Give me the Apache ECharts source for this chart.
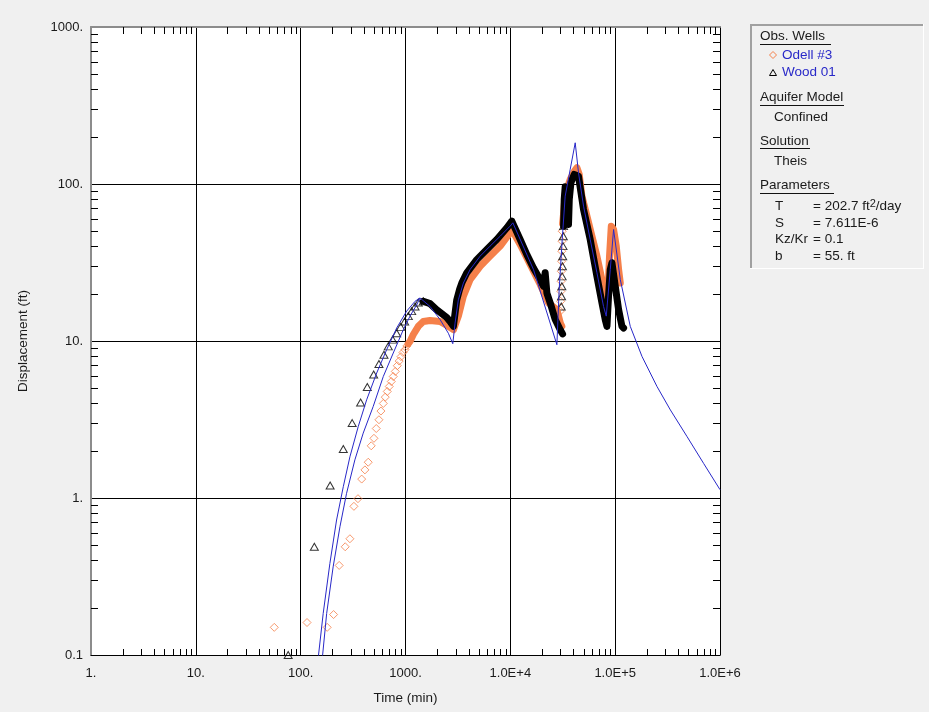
<!DOCTYPE html>
<html>
<head>
<meta charset="utf-8">
<title>Odell #3 / Wood 01 - Theis</title>
<script src="https://cdn.jsdelivr.net/npm/echarts@6/dist/echarts.min.js"></script>
<style>
  html, body { margin: 0; padding: 0; background: #f0f0f0; }
  #chart { width: 929px; height: 712px; }
</style>
</head>
<body>
<div id="chart"></div>
<script>
// ---- axis tick labels ----
const xTickLabels = ['1.', '10.', '100.', '1000.', '1.0E+4', '1.0E+5', '1.0E+6'];
const yTickLabels = ['0.1', '1.', '10.', '100.', '1000.'];

// ---- Odell #3 observations: [time (min), displacement (ft)] ----
const odellPoints = [
  [56, 0.150], [115, 0.161], [179, 0.150], [206, 0.181], [233, 0.372], [266, 0.489],
  [295, 0.550], [322, 0.885], [352, 0.99], [382, 1.32], [410, 1.51], [441, 1.69],
  [471, 2.15], [500, 2.40], [526, 2.77], [558, 3.15], [583, 3.58], [614, 4.00],
  [641, 4.39], [670, 4.77], [700, 5.13], [732, 5.52], [764, 5.94], [799, 6.40], [835, 6.96],
  [870, 7.45], [905, 7.95], [945, 8.45], [989, 8.80], [1030, 9.30],
  [30000, 15.5], [30200, 17.9], [30350, 20.7], [30500, 24.0], [30650, 27.8],
  [30800, 32.2], [30950, 37.3], [31100, 43.2], [31250, 50.0]
];
// densely logged stretches of Odell #3
const odellBands = [
  [
    [1060, 9.60], [1104, 9.94], [1187, 11.0], [1325, 12.4],
    [1479, 13.3], [1714, 13.5], [2137, 13.3], [2564, 12.4], [2864, 11.8], [3193, 14.4],
    [3565, 19.3], [4130, 24.6], [5150, 29.9], [6410, 34.7], [8000, 40.2], [9950, 48.9],
    [10330, 51.3], [12410, 41.2], [15450, 30.7], [19270, 22.9], [23110, 17.5],
    [27800, 15.8], [30000, 13.0], [31000, 12.4]
  ],
  [
    [31500, 56.0], [32150, 64.0], [33360, 85.9], [37260, 107], [40660, 120], [43150, 127],
    [45400, 115], [48180, 83.7], [53830, 62.4], [60000, 46.5], [66990, 34.7], [74820, 24.6],
    [80380, 19.3], [84560, 17.5], [88350, 34.7], [91830, 53.9], [96600, 51.3],
    [102400, 40.2], [107900, 28.5], [111900, 23.4]
  ]
];

// ---- Wood 01 observations ----
const woodPoints = [
  [76, 0.100], [135, 0.489], [191, 1.20], [255, 2.05], [310, 3.00], [373, 4.06],
  [432, 5.09], [497, 6.12], [558, 7.13], [623, 8.18], [685, 9.24], [755, 10.2],
  [824, 11.2], [900, 12.3], [982, 13.3], [1064, 14.4], [1146, 15.5], [1233, 16.6],
  [1325, 17.6], [1479, 17.9],
  [30600, 16.6], [30800, 19.3], [31000, 22.3], [31200, 25.8], [31400, 29.9],
  [31600, 34.7], [31800, 40.2], [32000, 46.5], [32200, 53.9]
];
const woodBands = [
  [
    [1479, 17.9], [1714, 17.3], [1986, 15.8], [2474, 14.1], [2661, 13.3], [2864, 12.4],
    [2971, 15.1], [3083, 18.3], [3280, 21.3], [3443, 23.4], [3843, 27.2], [4786, 33.0],
    [5970, 38.3], [7430, 44.3], [9265, 52.6], [10330, 58.0], [12410, 44.3], [14380, 35.5],
    [16630, 29.2], [19270, 24.6], [20700, 22.3], [21490, 27.2], [22320, 20.2],
    [23990, 17.5], [26790, 13.7], [29910, 11.8], [31500, 11.1]
  ],
  [
    [32200, 53.9], [32660, 80.0], [33360, 96.0], [34500, 90.0], [35880, 55.2], [36500, 80.0],
    [37840, 102], [40660, 115], [42480, 118], [44700, 112], [49920, 68.9], [57810, 44.3],
    [66990, 25.8], [74820, 17.5], [80380, 13.7], [83500, 12.4], [86450, 19.3], [89800, 28.5],
    [93150, 31.5], [100200, 22.3], [107900, 15.8], [116100, 12.4], [120300, 12.1]
  ]
];

// ---- Theis solution curves ----
const theisWood = [
  [146, 0.092], [164, 0.184], [190, 0.383], [220, 0.724], [255, 1.18], [295, 1.83],
  [354, 2.85], [426, 4.22], [531, 6.25], [661, 8.80], [824, 12.1], [1026, 15.5],
  [1233, 17.9], [1375, 18.8], [1714, 16.6], [2137, 13.7], [2564, 11.2], [2825, 9.61],
  [2971, 13.0], [3193, 18.3], [3565, 23.4], [4130, 28.5], [5150, 34.7], [6410, 40.2],
  [8000, 46.5], [9950, 53.9], [10570, 56.6], [16630, 28.5], [27800, 9.47], [29240, 21.3],
  [31250, 44.3], [33360, 83.7], [37260, 124], [41580, 183], [44700, 118], [49920, 72.3],
  [57810, 44.3], [66990, 27.2], [77450, 16.6], [82200, 14.4], [89800, 28.5], [96600, 51.3],
  [111900, 24.6], [139300, 12.4], [180300, 7.97], [250600, 5.13], [336000, 3.64],
  [485000, 2.46], [698000, 1.66], [1000000, 1.13]
];
const theisOdell = [
  [160, 0.092], [177, 0.184], [204, 0.364], [237, 0.656], [274, 1.07], [329, 1.75],
  [395, 2.59], [492, 3.83], [614, 5.94], [764, 8.38], [953, 11.8], [1104, 14.4],
  [1279, 17.0], [1375, 18.8]
];

// ---- legend panel text ----
const paramRows = [
  ['T', '= 202.7 ft{sup|2}/day'],
  ['S', '= 7.611E-6'],
  ['Kz/Kr', '= 0.1'],
  ['b', '= 55. ft']
];

const FONT_FAMILY = '"Liberation Sans", Arial, sans-serif';
const ORANGE = '#f5804a';
const BLUE = '#2828c8';
const TEXT = '#1a1a1a';

// log-axis minor tick values (2..9 in each decade)
const xMinor = [];
for (let d = 1; d < 1e6; d *= 10) for (let k = 2; k <= 9; k++) xMinor.push([k * d, 1]);
const yMinor = [];
for (let d = 0.1; d < 999; d *= 10) for (let k = 2; k <= 9; k++) yMinor.push([10, +(k * d).toPrecision(3)]);

function tickLine(x1, y1, x2, y2) {
  return { type: 'line', shape: { x1, y1, x2, y2 }, style: { stroke: '#000', lineWidth: 1 } };
}

const chart = echarts.init(document.getElementById('chart'), null, { renderer: 'canvas' });

function bandSeries(data, color) {
  return {
    type: 'line', data, symbol: 'none', silent: true, clip: true,
    lineStyle: { color, width: 7, cap: 'round', join: 'round' }
  };
}

function text(x, y, s, color, extra) {
  return {
    type: 'text', x, y, silent: true,
    style: Object.assign({
      text: s, fill: color || TEXT, fontSize: 13.5, fontFamily: FONT_FAMILY,
      verticalAlign: 'middle', align: 'left'
    }, extra || {})
  };
}
function underline(x1, x2, y) {
  return { type: 'line', silent: true, shape: { x1, y1: y, x2, y2: y }, style: { stroke: '#111', lineWidth: 1 } };
}

const legendGraphics = [
  { type: 'rect', silent: true, shape: { x: 750, y: 24, width: 174, height: 245 }, style: { fill: '#f0f0f0' } },
  { type: 'line', silent: true, shape: { x1: 750, y1: 25, x2: 923, y2: 25 }, style: { stroke: '#a0a0a0', lineWidth: 2 } },
  { type: 'line', silent: true, shape: { x1: 751, y1: 24, x2: 751, y2: 268 }, style: { stroke: '#a0a0a0', lineWidth: 2 } },
  { type: 'line', silent: true, shape: { x1: 750, y1: 268.5, x2: 924, y2: 268.5 }, style: { stroke: '#ffffff', lineWidth: 1 } },
  { type: 'line', silent: true, shape: { x1: 923.5, y1: 24, x2: 923.5, y2: 269 }, style: { stroke: '#ffffff', lineWidth: 1 } },
  text(760, 36, 'Obs. Wells'), underline(760, 831, 44.5),
  { type: 'polygon', silent: true, shape: { points: [[773, 51.5], [776.5, 55], [773, 58.5], [769.5, 55]] }, style: { fill: 'none', stroke: ORANGE, lineWidth: 1 } },
  text(782, 55, 'Odell #3', BLUE),
  { type: 'polygon', silent: true, shape: { points: [[773, 69.5], [776.5, 75.5], [769.5, 75.5]] }, style: { fill: 'none', stroke: '#000', lineWidth: 1 } },
  text(782, 72.5, 'Wood 01', BLUE),
  text(760, 97.5, 'Aquifer Model'), underline(760, 844, 105.5),
  text(774, 117, 'Confined'),
  text(760, 141, 'Solution'), underline(760, 810, 148.5),
  text(774, 161.5, 'Theis'),
  text(760, 185.5, 'Parameters'), underline(760, 834, 193.5)
];
paramRows.forEach((row, i) => {
  const y = 206.5 + i * 16.5;
  legendGraphics.push(text(775, y, row[0]));
  legendGraphics.push(text(813, y, row[1], TEXT, {
    lineHeight: 17,
    rich: { sup: { fontSize: 11, lineHeight: 11, verticalAlign: 'top', fontFamily: FONT_FAMILY, fill: TEXT } }
  }));
});

const labelStyle = { color: TEXT, fontSize: 13, fontFamily: FONT_FAMILY };

const option = {
  backgroundColor: '#f0f0f0',
  animation: false,
  grid: {
    left: 91, top: 27, width: 629, height: 628,
    show: true, backgroundColor: '#ffffff', borderWidth: 0
  },
  xAxis: [
    {
      type: 'log', logBase: 10, min: 1, max: 1e6, interval: 1,
      name: 'Time (min)', nameLocation: 'middle', nameGap: 36,
      nameTextStyle: { color: TEXT, fontSize: 13.5, fontFamily: FONT_FAMILY },
      axisLine: { show: true, lineStyle: { color: '#000', width: 1 } },
      axisTick: { show: false },
      axisLabel: Object.assign({
        margin: 12, showMinLabel: true, showMaxLabel: true, hideOverlap: false,
        formatter: v => xTickLabels[Math.round(Math.log10(v))] || ''
      }, labelStyle),
      splitLine: { show: true, lineStyle: { color: '#000', width: 1 } }
    },
    {
      type: 'log', logBase: 10, min: 1, max: 1e6, interval: 1, position: 'top',
      axisLine: { show: true, lineStyle: { color: '#8c8c8c', width: 2 } },
      axisTick: { show: false }, axisLabel: { show: false }, splitLine: { show: false }
    }
  ],
  yAxis: [
    {
      type: 'log', logBase: 10, min: 0.1, max: 1000, interval: 1,
      name: 'Displacement (ft)', nameLocation: 'middle', nameGap: 61,
      nameTextStyle: { color: TEXT, fontSize: 13.5, fontFamily: FONT_FAMILY },
      axisLine: { show: true, lineStyle: { color: '#8c8c8c', width: 2 } },
      axisTick: { show: false },
      axisLabel: Object.assign({
        margin: 8, showMinLabel: true, showMaxLabel: true, hideOverlap: false,
        formatter: v => yTickLabels[Math.round(Math.log10(v)) + 1] || ''
      }, labelStyle),
      splitLine: { show: true, lineStyle: { color: '#000', width: 1 } }
    },
    {
      type: 'log', logBase: 10, min: 0.1, max: 1000, interval: 1, position: 'right',
      axisLine: { show: true, lineStyle: { color: '#000', width: 1 } },
      axisTick: { show: false }, axisLabel: { show: false }, splitLine: { show: false }
    }
  ],
  graphic: legendGraphics,
  series: [
    {
      type: 'scatter', data: odellPoints, symbol: 'diamond', symbolSize: [8, 8], silent: true,
      itemStyle: { color: 'rgba(0,0,0,0)', borderColor: ORANGE, borderWidth: 1 }
    },
    ...odellBands.map(seg => bandSeries(seg, ORANGE)),
    {
      type: 'scatter', data: woodPoints, symbol: 'triangle', symbolSize: [8, 7], silent: true,
      itemStyle: { color: 'rgba(0,0,0,0)', borderColor: '#000', borderWidth: 1 }
    },
    ...woodBands.map(seg => bandSeries(seg, '#000')),
    {
      type: 'line', data: theisOdell, symbol: 'none', silent: true,
      lineStyle: { color: BLUE, width: 1 }
    },
    {
      type: 'line', data: theisWood, symbol: 'none', silent: true,
      lineStyle: { color: BLUE, width: 1 }
    },
    {
      // minor ticks on bottom and top edges
      type: 'custom', data: xMinor, silent: true,
      renderItem(params, api) {
        const cs = params.coordSys;
        const x = Math.round(api.coord([api.value(0), 1])[0]) + 0.5;
        const b = cs.y + cs.height, t = cs.y;
        return { type: 'group', children: [tickLine(x, b, x, b - 6), tickLine(x, t, x, t + 7)] };
      }
    },
    {
      // minor ticks on left and right edges
      type: 'custom', data: yMinor, silent: true,
      renderItem(params, api) {
        const cs = params.coordSys;
        const y = Math.round(api.coord([10, api.value(1)])[1]) + 0.5;
        const l = cs.x, r = cs.x + cs.width;
        return { type: 'group', children: [tickLine(l, y, l + 7, y), tickLine(r, y, r - 7, y)] };
      }
    }
  ]
};

chart.setOption(option);
</script>
</body>
</html>
